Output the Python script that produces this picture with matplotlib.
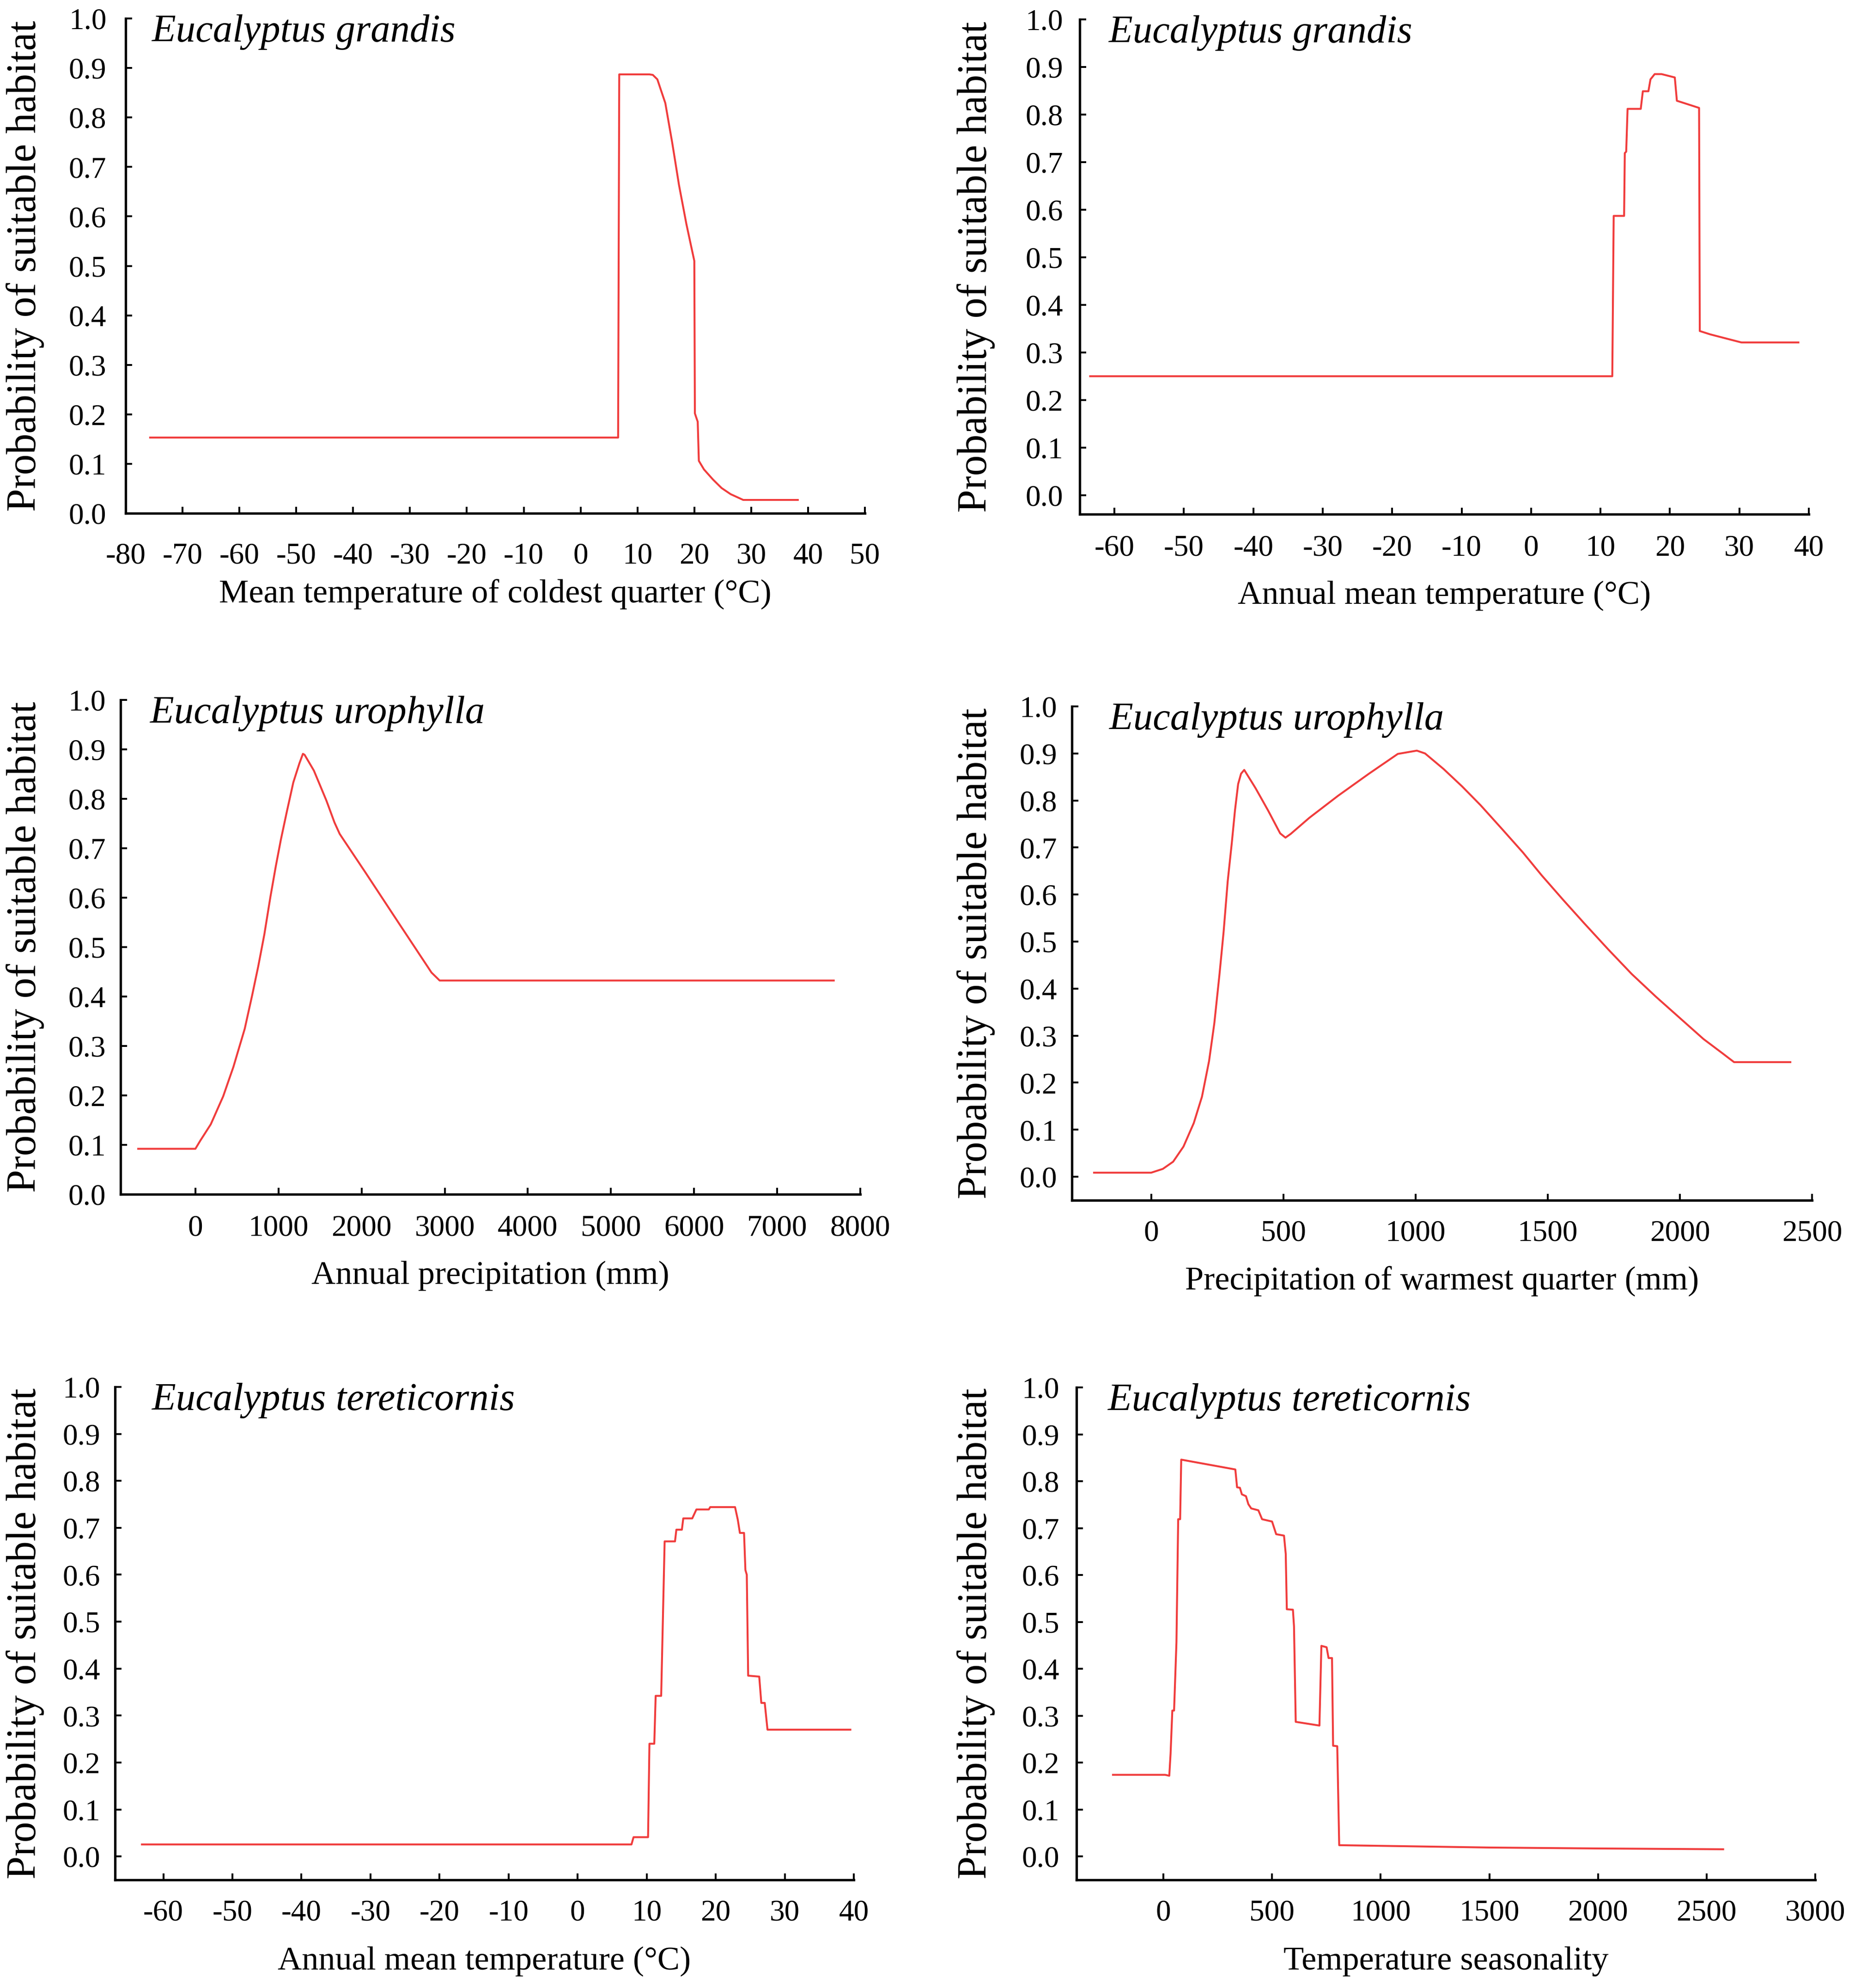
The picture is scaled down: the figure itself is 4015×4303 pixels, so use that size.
import matplotlib
matplotlib.use("Agg")
import matplotlib.pyplot as plt
import matplotlib.transforms as mtransforms
import numpy as np

plt.rcParams['font.family'] = ['Liberation Serif', 'DejaVu Serif']
plt.rcParams['axes.unicode_minus'] = False

# species names and axis titles
species = ["Eucalyptus grandis", "Eucalyptus grandis",
           "Eucalyptus urophylla", "Eucalyptus urophylla",
           "Eucalyptus tereticornis", "Eucalyptus tereticornis"]
x_labels = ["Mean temperature of coldest quarter (°C)",
            "Annual mean temperature (°C)",
            "Annual precipitation (mm)",
            "Precipitation of warmest quarter (mm)",
            "Annual mean temperature (°C)",
            "Temperature seasonality"]
y_label = "Probability of suitable habitat"

# response curves
coldest_q_temp = [-75.7, 6.6, 6.8, 12.1, 12.7, 13.5, 14.9, 16.1, 17.3, 18.6, 20.0, 20.1,
                  20.3, 20.6, 20.8, 21.7, 23.3, 24.8, 26.4, 28.6, 38.2]
grandis_coldest = [0.153, 0.153, 0.887, 0.887, 0.886, 0.877, 0.829, 0.750, 0.664, 0.585, 0.510,
                   0.202, 0.195, 0.185, 0.106, 0.0886, 0.068, 0.051, 0.0386, 0.027, 0.027]

annual_temp_g = [-63.5, 11.7, 11.9, 13.4, 13.5, 13.7, 13.9, 15.8, 16.1, 16.9, 17.2, 17.8, 18.8,
                 20.7, 21.0, 24.2, 24.3, 25.8, 30.3, 38.5]
grandis_annual = [0.25, 0.25, 0.587, 0.587, 0.719, 0.722, 0.812, 0.812, 0.849, 0.849, 0.874,
                  0.885, 0.885, 0.878, 0.829, 0.814, 0.345, 0.338, 0.321, 0.321]

annual_prec = [-688, 0, 61, 185, 334, 458, 594, 681, 755, 830, 904, 967, 1028, 1103, 1178,
               1252, 1294, 1314, 1426, 1575, 1674, 1736, 2046, 2418, 2841, 2939, 7681]
urophylla_prec = [0.092, 0.092, 0.109, 0.1415, 0.198, 0.258, 0.335, 0.401, 0.460, 0.526, 0.603,
                  0.663, 0.717, 0.776, 0.833, 0.872, 0.891, 0.889, 0.857, 0.797, 0.752, 0.729,
                  0.651, 0.556, 0.4485, 0.4324, 0.4324]

warm_q_prec = [-216, 0, 44, 83, 122, 161, 192, 219, 239, 258, 274, 289.5, 305, 317, 329, 340,
               352, 395, 442, 488, 508, 528, 598, 707, 824, 933, 1005, 1036, 1106, 1176, 1246,
               1327, 1407, 1477, 1558, 1638, 1728, 1818, 1909, 1999, 2089, 2160, 2205, 2418]
urophylla_warm = [0.0087, 0.0087, 0.0167, 0.032, 0.064, 0.114, 0.170, 0.246, 0.327, 0.428,
                  0.521, 0.628, 0.710, 0.779, 0.835, 0.857, 0.865, 0.826, 0.779, 0.730, 0.721,
                  0.729, 0.763, 0.810, 0.857, 0.899, 0.906, 0.900, 0.867, 0.830, 0.790, 0.7395,
                  0.689, 0.641, 0.589, 0.539, 0.484, 0.431, 0.383, 0.338, 0.293, 0.263, 0.2437,
                  0.2437]

annual_temp_t = [-63.1, 7.8, 8.1, 10.2, 10.4, 11.1, 11.3, 12.1, 12.6, 14.1, 14.3, 15.1, 15.3,
                 16.6, 17.2, 19.0, 19.2, 22.8, 23.2, 23.5, 24.1, 24.3, 24.5, 24.7, 26.3, 26.6,
                 27.1, 27.5, 39.5]
teret_annual = [0.0255, 0.0255, 0.041, 0.041, 0.240, 0.240, 0.342, 0.342, 0.671, 0.671, 0.696,
                0.696, 0.720, 0.720, 0.739, 0.739, 0.744, 0.744, 0.717, 0.689, 0.689, 0.610,
                0.600, 0.385, 0.383, 0.327, 0.327, 0.270, 0.270]

temp_season = [-232, 8, 27, 33, 41, 49, 60, 68, 77, 82, 331, 339, 352, 361, 380, 391, 404, 437,
               454, 500, 519, 555, 563, 568, 596, 601, 609, 718, 727, 751, 760, 776, 781, 800,
               809, 1500, 2000, 2576]
teret_season = [0.174, 0.174, 0.172, 0.219, 0.311, 0.311, 0.457, 0.719, 0.719, 0.846, 0.825,
                0.787, 0.786, 0.772, 0.768, 0.751, 0.742, 0.738, 0.719, 0.714, 0.687, 0.684,
                0.645, 0.527, 0.526, 0.491, 0.287, 0.279, 0.449, 0.446, 0.423, 0.423, 0.236,
                0.235, 0.024, 0.019, 0.017, 0.0153]

xs = [coldest_q_temp, annual_temp_g, annual_prec, warm_q_prec, annual_temp_t, temp_season]
ys = [grandis_coldest, grandis_annual, urophylla_prec, urophylla_warm, teret_annual, teret_season]

x_ticks = [np.arange(-80, 51, 10), np.arange(-60, 41, 10), np.arange(0, 8001, 1000),
           np.arange(0, 2501, 500), np.arange(-60, 41, 10), np.arange(0, 3001, 500)]
x_lims = [(-80, 50), (-65, 40), (-900, 8000), (-300, 2500), (-67, 40), (-400, 3000)]
y_bottoms = [0.0, -0.04, 0.0, -0.05, -0.05, -0.05]

# panel boxes in pixels: left, right, top, bottom
W, H = 4016, 4303
boxes = [(272, 1872, 40, 1111), (2337, 3915, 42, 1113),
         (261, 1862, 1515, 2585), (2320, 3922, 1529, 2598),
         (249, 1848, 3002, 4069), (2330, 3929, 3003, 4069)]
ylab_x = [96, 2154, 96, 2154, 96, 2154]
title_dx = [57, 63, 64, 81, 80, 68]
xpad = [45, 32, 32, 30, 30, 30]
ypad = [30, 26, 23, 23, 23, 27]

red = '#f03c3c'

fig = plt.figure(figsize=(W / 100, H / 100), dpi=100)

for i in range(6):
    l, r, t, b = boxes[i]
    ax = fig.add_axes([l / W, 1 - b / H, (r - l) / W, (b - t) / H])
    ax.plot(xs[i], ys[i], color=red, lw=3.0)

    ax.set_xlim(*x_lims[i])
    ax.set_ylim(y_bottoms[i], 1.0)
    ax.set_xticks(x_ticks[i])
    ax.set_xticklabels([str(v) for v in x_ticks[i]])
    yt = np.round(np.arange(0, 1.01, 0.1), 1)
    ax.set_yticks(yt)
    ax.set_yticklabels([f"{v:.1f}" for v in yt])

    for s in ['top', 'right']:
        ax.spines[s].set_visible(False)
    for s in ['left', 'bottom']:
        ax.spines[s].set_linewidth(3.8)
    ax.tick_params(direction='in', length=10, width=2.9, labelsize=47)
    ax.tick_params(axis='x', pad=xpad[i])
    ax.tick_params(axis='y', pad=ypad[i])

    ax.set_xlabel(x_labels[i], fontsize=52, va='baseline')
    ax.xaxis.set_label_coords(0.5, -194 / (b - t))
    ax.set_ylabel(y_label, fontsize=64.5)
    trans = mtransforms.blended_transform_factory(fig.transFigure, ax.transAxes)
    ax.yaxis.set_label_coords(ylab_x[i] / W, 0.5, transform=trans)

    ax.text(title_dx[i] / (r - l), 1 - 50 / (b - t), species[i], transform=ax.transAxes,
            fontsize=61, style='italic', va='baseline', ha='left')

fig.savefig("out.png", dpi=100)
